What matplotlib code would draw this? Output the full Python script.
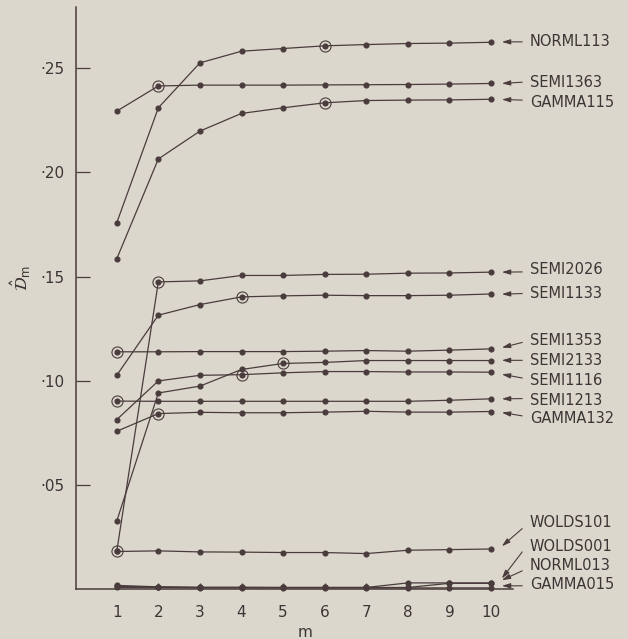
import matplotlib
matplotlib.use("Agg")
import matplotlib.pyplot as plt

# ---------------- data ----------------
m = [1, 2, 3, 4, 5, 6, 7, 8, 9, 10]

NORML113 = [0.1758, 0.2311, 0.2527, 0.2583, 0.2596, 0.2609, 0.2615, 0.2620, 0.2622, 0.2626]
SEMI1363 = [0.2295, 0.2416, 0.2420, 0.2420, 0.2420, 0.2421, 0.2422, 0.2423, 0.2425, 0.2428]
GAMMA115 = [0.1585, 0.2065, 0.2199, 0.2284, 0.2311, 0.2335, 0.2346, 0.2348, 0.2349, 0.2352]
SEMI2026 = [0.0178, 0.1474, 0.1479, 0.1505, 0.1505, 0.1510, 0.1511, 0.1516, 0.1517, 0.1521]
SEMI1133 = [0.1025, 0.1314, 0.1365, 0.1402, 0.1407, 0.1410, 0.1408, 0.1408, 0.1410, 0.1416]
SEMI1353 = [0.1138, 0.1138, 0.1139, 0.1139, 0.1139, 0.1141, 0.1144, 0.1141, 0.1146, 0.1152]
SEMI2133 = [0.0324, 0.0940, 0.0973, 0.1053, 0.1082, 0.1087, 0.1096, 0.1096, 0.1096, 0.1096]
SEMI1116 = [0.0812, 0.0998, 0.1025, 0.1028, 0.1037, 0.1043, 0.1043, 0.1041, 0.1041, 0.1040]
SEMI1213 = [0.0901, 0.0900, 0.0900, 0.0900, 0.0900, 0.0900, 0.0900, 0.0900, 0.0905, 0.0912]
GAMMA132 = [0.0756, 0.0841, 0.0847, 0.0845, 0.0845, 0.0848, 0.0852, 0.0848, 0.0848, 0.0851]
WOLDS101 = [0.0178, 0.0181, 0.0176, 0.0175, 0.0173, 0.0173, 0.0168, 0.0184, 0.0187, 0.0190]
WOLDS001 = [0.0010, 0.0008, 0.0006, 0.0006, 0.0005, 0.0005, 0.0005, 0.0005, 0.0025, 0.0025]
NORML013 = [0.0015, 0.0008, 0.0005, 0.0005, 0.0005, 0.0005, 0.0005, 0.0027, 0.0027, 0.0027]
GAMMA015 = [0.0005, 0.0005, 0.0003, 0.0003, 0.0003, 0.0003, 0.0003, 0.0003, 0.0003, 0.0003]

series_names = ["NORML113", "SEMI1363", "GAMMA115", "SEMI2026", "SEMI1133",
                "SEMI1353", "SEMI2133", "SEMI1116", "SEMI1213", "GAMMA132",
                "WOLDS101", "WOLDS001", "NORML013", "GAMMA015"]
series_values = [NORML113, SEMI1363, GAMMA115, SEMI2026, SEMI1133,
                 SEMI1353, SEMI2133, SEMI1116, SEMI1213, GAMMA132,
                 WOLDS101, WOLDS001, NORML013, GAMMA015]
# m at which the point is circled (None = no circle)
circled_m = [6, 2, 6, 2, 4, 1, 5, 4, 1, 2, 1, None, None, None]

y_ticks = [0.05, 0.10, 0.15, 0.20, 0.25]
y_tick_labels = ["·05", "·10", "·15", "·20", "·25"]

# ---------------- style ----------------
bg = "#dcd7cd"
ink = "#4a3c3c"
txt = "#3c3535"

plt.rcParams["font.family"] = ["DejaVu Sans"]

fig = plt.figure(figsize=(6.28, 6.39), dpi=100, facecolor=bg)
ax = fig.add_axes([0.121, 0.079, 0.696, 0.9105])
ax.set_facecolor(bg)

for vals, cm in zip(series_values, circled_m):
    ax.plot(m, vals, color=ink, lw=0.9, marker="o", ms=3.4,
            mfc=ink, mec=ink, zorder=3, clip_on=False)
    if cm is not None:
        ax.plot([cm], [vals[m.index(cm)]], marker="o", ms=8, mfc="none",
                mec=ink, mew=0.8, ls="none", zorder=4, clip_on=False)

ax.set_xlim(0.02, 10.53)
ax.set_ylim(0, 0.2797)

for s in ["top", "right"]:
    ax.spines[s].set_visible(False)
for s in ["left", "bottom"]:
    ax.spines[s].set_color(ink)
    ax.spines[s].set_linewidth(1.1)

ax.set_xticks(m)
ax.set_xticklabels([str(v) for v in m])
ax.set_yticks(y_ticks)
ax.set_yticklabels(y_tick_labels)
ax.tick_params(axis="x", direction="in", length=4, width=0.9, color=ink,
               labelsize=11, labelcolor=txt, pad=12)
ax.tick_params(axis="y", direction="in", length=10, width=0.9, color=ink,
               labelsize=11, labelcolor=txt, pad=8)

ax.set_xlabel("m", fontsize=11, color=txt)
ax.xaxis.set_label_coords(0.524, -0.062)
ax.set_ylabel(r"$\hat{\mathcal{D}}_{\mathrm{m}}$", fontsize=12, color=txt, rotation=90)
ax.yaxis.set_label_coords(-0.098, 0.534)

# ---------------- right-hand labels with arrows (layout) ----------------
label_y = [0.2628, 0.2434, 0.2338, 0.1535, 0.1420, 0.1194, 0.1094, 0.1001,
           0.0905, 0.0817, 0.0315, 0.0200, 0.0109, 0.0019]
arrow_tail_y = [0.2628, 0.2434, 0.2348, 0.1522, 0.1418, 0.1183, 0.1097, 0.1012,
                0.0913, 0.0830, 0.0288, 0.0176, 0.0085, 0.0013]
arrow_head_y = [0.2628, 0.2428, 0.2351, 0.1521, 0.1415, 0.1158, 0.1097, 0.1030,
                0.0912, 0.0846, 0.0203, 0.0048, 0.0040, 0.0013]

for name, ly, ty, hy in zip(series_names, label_y, arrow_tail_y, arrow_head_y):
    ax.annotate("", xy=(10.26, hy), xytext=(10.75, ty),
                arrowprops=dict(arrowstyle="-|>,head_length=0.5,head_width=0.15",
                                color=ink, lw=0.8, shrinkA=0, shrinkB=0),
                annotation_clip=False)
    ax.text(10.93, ly, name, fontsize=10.5, color=txt, va="center", ha="left",
            clip_on=False)

fig.savefig("out.png", dpi=100, facecolor=bg)
